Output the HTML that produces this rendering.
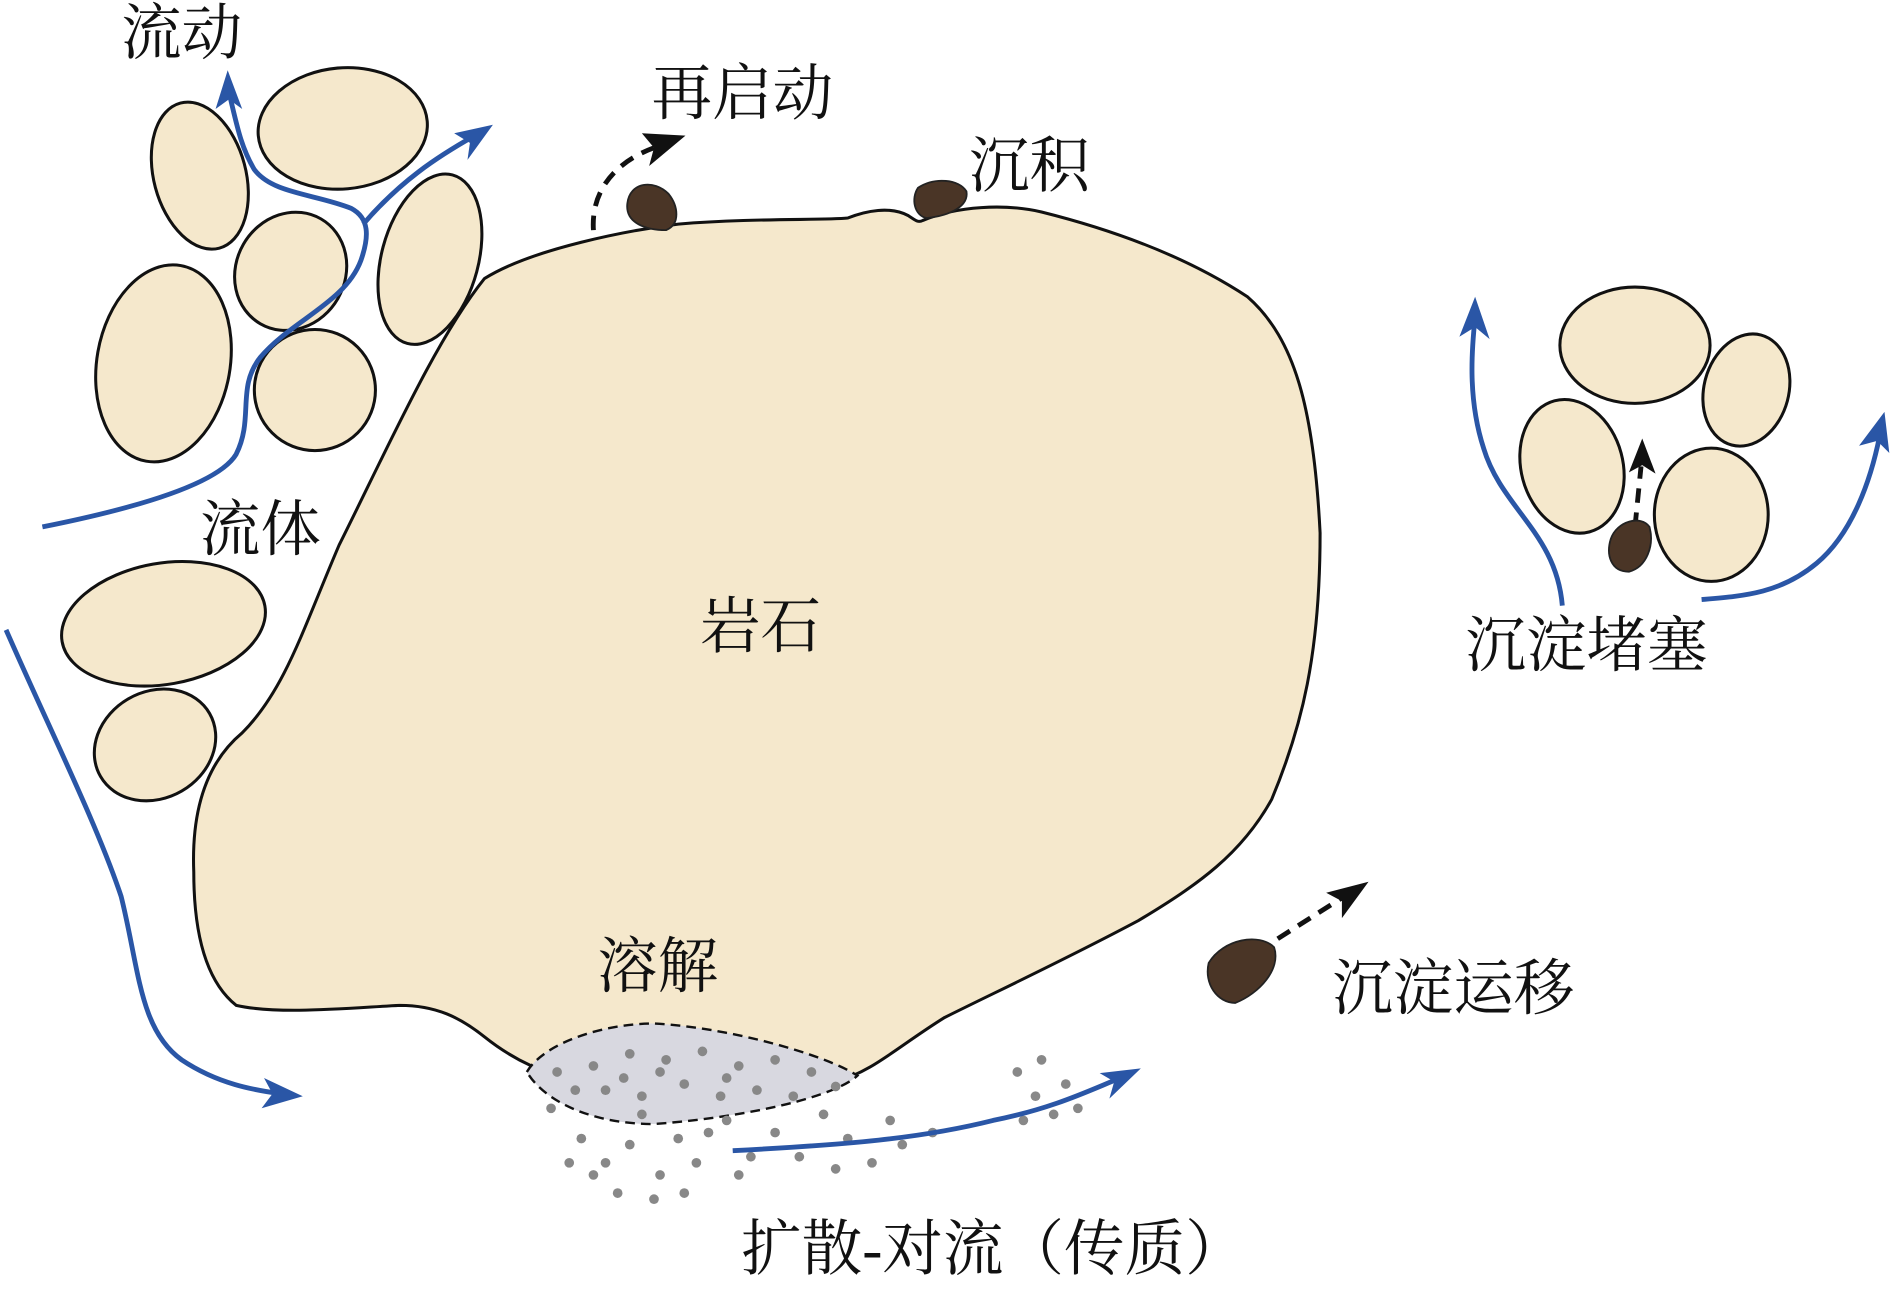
<!DOCTYPE html>
<html><head><meta charset="utf-8"><style>
html,body{margin:0;padding:0;background:#fff;}
svg{display:block;}
text{font-family:"Liberation Serif","Noto Serif CJK SC",serif;font-size:50px;fill:#111;}
</style></head><body>
<svg width="1899" height="1290" viewBox="0 0 1568 1065" preserveAspectRatio="none" xmlns="http://www.w3.org/2000/svg">
<g fill="#f5e8cc" stroke="#111" stroke-width="2.5">
<path d="M400,230 C440,205 520,190 560,185 C620,180 680,182 700,180 C715,174 735,170 750,178 C756,182 758,184 762,182 C790,170 830,168 860,175 C920,190 980,212 1030,245 C1070,280 1085,340 1090,440 C1090,540 1075,600 1050,660 C1025,705 990,730 940,760 C880,792 820,820 780,840 C740,865 720,885 690,893 C640,905 560,905 500,898 C450,890 420,872 400,856 C380,840 360,830 330,830 C290,832 230,838 195,830 C170,810 160,770 160,720 C158,670 170,630 200,605 C235,570 250,520 280,450 C320,370 360,280 400,230 Z"/>
<ellipse cx="165" cy="145" rx="38" ry="62" transform="rotate(-15 165 145)"/>
<ellipse cx="283" cy="106" rx="70" ry="50" transform="rotate(-5 283 106)"/>
<ellipse cx="240" cy="224" rx="45" ry="50" transform="rotate(30 240 224)"/>
<ellipse cx="355" cy="214" rx="40" ry="72" transform="rotate(15 355 214)"/>
<ellipse cx="135" cy="300" rx="55" ry="82" transform="rotate(10 135 300)"/>
<ellipse cx="260" cy="322" rx="50" ry="50"/>
<ellipse cx="135" cy="515" rx="85" ry="50" transform="rotate(-10 135 515)"/>
<ellipse cx="128" cy="615" rx="52" ry="44" transform="rotate(-30 128 615)"/>
<ellipse cx="1350" cy="285" rx="62" ry="48"/>
<ellipse cx="1442" cy="322" rx="35" ry="47" transform="rotate(15 1442 322)"/>
<ellipse cx="1298" cy="385" rx="42" ry="56" transform="rotate(-15 1298 385)"/>
<ellipse cx="1413" cy="425" rx="47" ry="55"/>
</g>
<path d="M435,885 C450,860 500,845 540,845 C600,848 680,870 708,888 C690,905 620,922 540,928 C490,928 450,910 435,885 Z" fill="#d8d8e0" stroke="#111" stroke-width="2" stroke-dasharray="8 5"/>
<g fill="#888">
<circle cx="460" cy="885" r="4"/><circle cx="490" cy="880" r="4"/><circle cx="520" cy="870" r="4"/><circle cx="550" cy="875" r="4"/><circle cx="580" cy="868" r="4"/><circle cx="610" cy="880" r="4"/><circle cx="640" cy="875" r="4"/><circle cx="670" cy="885" r="4"/><circle cx="500" cy="900" r="4"/><circle cx="530" cy="905" r="4"/><circle cx="565" cy="895" r="4"/><circle cx="595" cy="905" r="4"/><circle cx="625" cy="900" r="4"/><circle cx="655" cy="905" r="4"/><circle cx="455" cy="915" r="4"/><circle cx="480" cy="940" r="4"/><circle cx="500" cy="960" r="4"/><circle cx="520" cy="945" r="4"/><circle cx="545" cy="970" r="4"/><circle cx="560" cy="940" r="4"/><circle cx="575" cy="960" r="4"/><circle cx="470" cy="960" r="4"/><circle cx="510" cy="985" r="4"/><circle cx="540" cy="990" r="4"/><circle cx="490" cy="970" r="4"/><circle cx="530" cy="920" r="4"/><circle cx="600" cy="925" r="4"/><circle cx="640" cy="935" r="4"/><circle cx="660" cy="955" r="4"/><circle cx="700" cy="940" r="4"/><circle cx="720" cy="960" r="4"/><circle cx="745" cy="945" r="4"/><circle cx="770" cy="935" r="4"/><circle cx="610" cy="970" r="4"/><circle cx="680" cy="920" r="4"/><circle cx="840" cy="885" r="4"/><circle cx="860" cy="875" r="4"/><circle cx="880" cy="895" r="4"/><circle cx="855" cy="905" r="4"/><circle cx="890" cy="915" r="4"/><circle cx="870" cy="920" r="4"/><circle cx="845" cy="925" r="4"/><circle cx="585" cy="935" r="4"/><circle cx="620" cy="955" r="4"/><circle cx="690" cy="965" r="4"/><circle cx="735" cy="925" r="4"/><circle cx="565" cy="985" r="4"/><circle cx="475" cy="900" r="4"/><circle cx="545" cy="885" r="4"/><circle cx="600" cy="890" r="4"/><circle cx="515" cy="890" r="4"/><circle cx="690" cy="897" r="4"/>
</g>
<g fill="none" stroke="#2a56a6" stroke-width="4">
<path d="M35,435 C110,420 180,400 195,375 C210,345 195,320 215,295 C240,265 285,250 298,215 C305,195 305,180 290,172 C260,160 225,160 210,140 C198,120 195,100 188,72"/>
<path d="M300,185 C330,150 360,130 392,112"/>
<path d="M5,520 C40,600 80,680 100,740 C115,800 115,850 150,875 C180,895 210,900 232,903"/>
<path d="M605,950 C700,945 760,940 820,925 C870,915 900,900 925,890"/>
<path d="M1290,500 C1285,440 1240,420 1225,370 C1212,330 1215,290 1218,262"/>
<path d="M1405,495 C1440,492 1470,490 1500,465 C1530,440 1545,395 1552,360"/>
</g>
<g fill="#2a56a6">
<path d="M188,58 L178,90 L189,82 L200,90 Z"/>
<path d="M407,103 L375,110 L388,118 L386,132 Z"/>
<path d="M250,905 L218,890 L225,903 L216,915 Z"/>
<path d="M942,882 L908,886 L920,893 L916,907 Z"/>
<path d="M1218,245 L1205,278 L1218,270 L1230,280 Z"/>
<path d="M1556,340 L1535,368 L1550,364 L1560,374 Z"/>
</g>
<g fill="none" stroke="#111" stroke-width="4" stroke-dasharray="12 8">
<path d="M490,190 C488,160 505,135 540,122"/>
<path d="M1055,775 L1110,740"/>
<path d="M1350,435 L1355,385"/>
</g>
<g fill="#111">
<path d="M566,112 L530,110 L540,122 L536,137 Z"/>
<path d="M1130,728 L1095,737 L1108,744 L1108,758 Z"/>
<path d="M1356,362 L1345,390 L1356,384 L1367,391 Z"/>
</g>
<g fill="#4a3526" stroke="#222" stroke-width="1.5">
<path d="M518,168 C520,150 540,148 552,160 C560,170 562,185 550,190 C535,190 516,185 518,168 Z"/>
<path d="M758,155 C772,146 792,148 798,158 C800,170 785,178 765,180 C755,178 752,164 758,155 Z"/>
<path d="M998,795 C1010,775 1040,770 1052,782 C1058,800 1040,820 1020,828 C1005,828 994,812 998,795 Z"/>
<path d="M1330,445 C1335,430 1355,425 1362,435 C1366,450 1360,468 1345,472 C1330,472 1326,458 1330,445 Z"/>
</g>
<text x="100" y="44">流动</text>
<text x="538" y="94">再启动</text>
<text x="800" y="154">沉积</text>
<text x="165" y="454">流体</text>
<text x="578" y="534">岩石</text>
<text x="493" y="815">溶解</text>
<text x="1100" y="833">沉淀运移</text>
<text x="1210" y="550">沉淀堵塞</text>
<text x="612" y="1048">扩散-对流（传质）</text>
</svg>
</body></html>
